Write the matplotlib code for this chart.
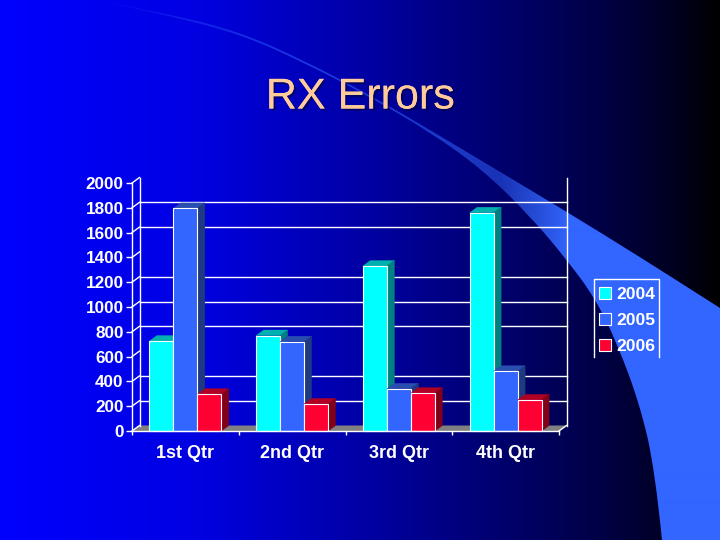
import numpy as np
import matplotlib
matplotlib.use("Agg")
import matplotlib.pyplot as plt
import matplotlib.patheffects as pe
from matplotlib.patches import Patch, PathPatch, Polygon
from matplotlib.path import Path

categories = ["1st Qtr", "2nd Qtr", "3rd Qtr", "4th Qtr"]
series_names = ["2004", "2005", "2006"]
values_2004 = [725, 770, 1330, 1760]
values_2005 = [1795, 720, 340, 482]
values_2006 = [296, 218, 305, 250]
y_ticks = [0, 200, 400, 600, 800, 1000, 1200, 1400, 1600, 1800, 2000]
visible_grid = [200, 400, 800, 1000, 1200, 1600, 1800]

FRONT = ["#00ffff", "#3366ff", "#ff0033"]
TOP = ["#00b0b0", "#2a4db0", "#b00024"]
SIDE = ["#008080", "#1f3a80", "#800018"]
WHITE = "#ffffff"

W, H = 720, 540
plt.rcParams["font.family"] = ["Liberation Sans", "DejaVu Sans"]
fig = plt.figure(figsize=(7.2, 5.4), dpi=100)

# ---- slide background in pixel coordinates
bg = fig.add_axes([0, 0, 1, 1], zorder=0)
bg.set_xlim(0, W)
bg.set_ylim(H, 0)
bg.axis("off")
stops_x = [0, 200, 350, 500, 600, 680, 720]
stops_b = [255, 225, 170, 110, 70, 28, 0]
ramp = np.interp(np.arange(W), stops_x, stops_b) / 255
grad = np.zeros((2, W, 3))
grad[..., 2] = ramp
bg.imshow(grad, extent=(0, W, H, 0), aspect="auto", interpolation="bilinear")


def smooth(points):
    """Quadratic spline through the midpoints of a control polyline."""
    verts = [points[0]]
    codes = [Path.LINETO]
    for a, b in zip(points[1:-1], points[2:]):
        mid = ((a[0] + b[0]) / 2, (a[1] + b[1]) / 2)
        verts += [a, mid]
        codes += [Path.CURVE3, Path.CURVE3]
    verts.append(points[-1])
    codes.append(Path.LINETO)
    return verts, codes


upper = [(95, 0), (170, 14), (240, 32), (303, 60), (370, 95), (430, 130), (497, 170), (567, 212), (640, 257), (720, 308)]
lower = [(662, 540), (655, 470), (640, 405), (617, 343), (595, 298), (567, 260), (530, 216), (483, 170), (430, 132), (370, 97), (303, 62), (240, 34), (170, 16), (95, 0)]
uv, uc = smooth(upper)
lv, lc = smooth(lower)
verts = uv + [(720, 540)] + lv
codes = uc + [Path.LINETO] + lc
codes[0] = Path.MOVETO
swoosh = PathPatch(Path(verts, codes), transform=bg.transData, fc="none", ec="none")
bg.add_patch(swoosh)
rgba = np.zeros((2, W, 4))
rgba[..., 0] = 0x33 / 255
rgba[..., 1] = 0x66 / 255
rgba[..., 2] = 1.0
rgba[..., 3] = np.interp(np.arange(W), [95, 300, 450, 500, 570, 720], [0.1, 0.55, 0.55, 0.5, 1, 1])
im = bg.imshow(rgba, extent=(0, W, H, 0), aspect="auto", interpolation="bilinear")
im.set_clip_path(swoosh)
bg.set_xlim(0, W)
bg.set_ylim(H, 0)

# ---- title
bg.text(360, 97.5, "RX Errors", color="#ffcc99", fontsize=31, ha="center", va="center",
        path_effects=[pe.withSimplePatchShadow(offset=(1.5, -1.5), shadow_rgbFace="#000050", alpha=0.7), pe.Normal()])

# ---- chart
x0, x1, y0, y1 = 132, 559, 431, 183
ax = fig.add_axes([x0 / W, 1 - y0 / H, (x1 - x0) / W, (y0 - y1) / H], zorder=1)
ax.patch.set_alpha(0)
n = len(categories)
ax.set_xlim(0, n)
ax.set_ylim(0, 2000)
dx = 7.5 / ((x1 - x0) / n)
dy = 5.5 / ((y0 - y1) / 2000)

# floor
ax.add_patch(Polygon([(0, 0), (dx, dy), (n + dx, dy), (n, 0)], closed=True, fc="#808080", ec="none", clip_on=False, zorder=1))
# back wall
for v in visible_grid:
    ax.plot([dx, n + dx], [v + dy, v + dy], color=WHITE, lw=1, clip_on=False, zorder=1)
ax.plot([dx, dx], [dy, 2000 + dy], color=WHITE, lw=1, clip_on=False, zorder=1)
ax.plot([n + dx, n + dx], [dy, 2000 + dy], color=WHITE, lw=1, clip_on=False, zorder=1)
# side wall diagonals
for v in y_ticks:
    ax.plot([0, dx], [v, v + dy], color=WHITE, lw=1, clip_on=False, zorder=1)
ax.plot([n, n + dx], [0, dy], color=WHITE, lw=1, clip_on=False, zorder=1)

# bars
bar_w = 24 / ((x1 - x0) / n)
all_vals = [values_2004, values_2005, values_2006]
z = 2
for c in range(n):
    for s, vals in enumerate(all_vals):
        left = c + 0.5 + (s - 1.5) * bar_w
        v = vals[c]
        ax.bar(left, v, bar_w, align="edge", color=FRONT[s], edgecolor=WHITE, lw=0.8, zorder=z + 0.2, clip_on=False)
        ax.add_patch(Polygon([(left, v), (left + dx, v + dy), (left + bar_w + dx, v + dy), (left + bar_w, v)],
                             closed=True, fc=TOP[s], ec=TOP[s], lw=0.3, zorder=z, clip_on=False))
        ax.add_patch(Polygon([(left + bar_w, 0), (left + bar_w + dx, dy), (left + bar_w + dx, v + dy), (left + bar_w, v)],
                             closed=True, fc=SIDE[s], ec=SIDE[s], lw=0.3, zorder=z + 0.1, clip_on=False))
        z += 1

for sp in ["top", "right"]:
    ax.spines[sp].set_visible(False)
for sp in ["left", "bottom"]:
    ax.spines[sp].set_color(WHITE)
    ax.spines[sp].set_linewidth(1)
    ax.spines[sp].set_zorder(z + 1)
ax.set_yticks(y_ticks)
ax.set_xticks(range(n + 1))
ax.set_xticklabels([])
ax.set_xticks([i + 0.5 for i in range(n)], minor=True)
ax.set_xticklabels(categories, minor=True)
ax.tick_params(axis="y", colors=WHITE, length=4, width=1, labelsize=12.3, pad=2)
ax.tick_params(axis="x", which="major", colors=WHITE, length=3, width=1)
ax.tick_params(axis="x", which="minor", colors=WHITE, length=0, labelsize=13, pad=10)
for lab in ax.get_yticklabels() + ax.get_xticklabels(minor=True):
    lab.set_fontweight("bold")

# legend
handles = [Patch(fc=FRONT[i], ec=WHITE, lw=0.8) for i in range(3)]
leg = fig.legend(handles, series_names, loc="upper left", bbox_to_anchor=(592 / W, 1 - 280 / H),
                 frameon=False, labelcolor=WHITE, prop={"size": 12.6, "weight": "bold"},
                 handlelength=0.68, handleheight=0.68, handletextpad=0.3, labelspacing=0.62,
                 borderpad=0.4, borderaxespad=0)
bg.plot([593.5, 593.5, 658.5, 658.5], [357, 278.5, 278.5, 357], color=WHITE, lw=1, zorder=5)

fig.savefig("out.png", dpi=100)
